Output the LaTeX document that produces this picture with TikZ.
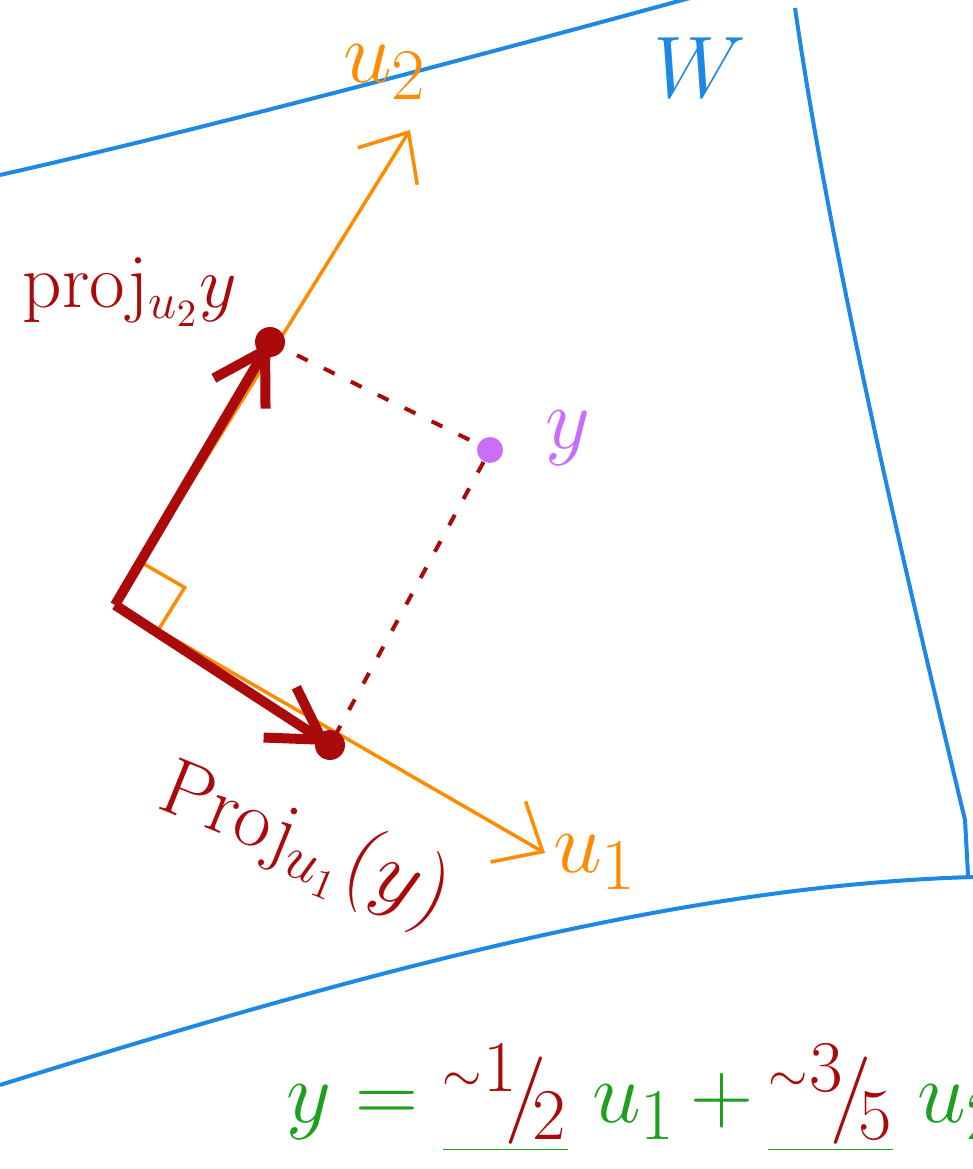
\documentclass[tikz,border=0pt]{standalone}
\usepackage{xcolor}
\usepackage{tikz}
\usetikzlibrary{arrows.meta,calc}

\definecolor{planeblue}{RGB}{30,136,229}
\definecolor{basisorange}{RGB}{255,140,0}
\definecolor{projred}{RGB}{170,10,10}
\definecolor{ypurple}{RGB}{200,110,250}
\definecolor{eqgreen}{RGB}{30,160,30}

\newcommand{\approxfrac}[2]{\textcolor{projred}{{}^{\scriptscriptstyle\sim}{}^{#1}\!/\!{}_{#2}}}

\begin{document}
\begin{tikzpicture}[
            x=0.1mm, y=-0.1mm,
            plane/.style={draw=planeblue, line width=0.4mm},
            basis/.style={draw=basisorange, line width=0.35mm, -{Straight Barb[length=4mm, width=7mm]}},
            projvec/.style={draw=projred, line width=1mm, -{Straight Barb[length=5mm, width=6mm]}},
            perpline/.style={draw=projred, line width=0.4mm, dash pattern=on 1.2mm off 1.8mm},
            dot/.style={circle, fill=#1, inner sep=0pt, minimum size=3mm},
            lbl/.style={text=#1, inner sep=1pt}
        ]
        \useasboundingbox (0,0) rectangle (973,1169);

        % the plane W
        \draw[plane] (0,175) .. controls (200,130) and (500,50) .. (690,-2);
        \draw[plane] (795,8) .. controls (830,250) and (900,550) .. (965,820) -- (968,875);
        \draw[plane] (973,877) .. controls (700,885) and (400,960) .. (0,1085);
        \node[lbl=planeblue, font=\fontsize{26}{30}\selectfont] (wlabel) at (700,68) {$W$};

        % basis vectors
        \coordinate (O) at (115,605);
        \coordinate (U1) at (545,853);
        \coordinate (U2) at (410,130);
        \draw[basis] (O) -- (U1);
        \draw[basis] (O) -- (U2);
        \node[lbl=basisorange, font=\fontsize{30}{34}\selectfont] (u2label) at (385,72) {$u_2$};
        \node[lbl=basisorange, font=\fontsize{30}{34}\selectfont] (u1label) at (595,862) {$u_1$};

        % right angle
        \coordinate (A) at ($(O)!5mm!(U1)$);
        \coordinate (B) at ($(O)!5mm!(U2)$);
        \draw[basisorange, line width=0.35mm] (A) -- ($(A)+(B)-(O)$) -- (B);

        % projections
        \coordinate (P2) at (270,342);
        \coordinate (P1) at (330,745);
        \node[dot=ypurple, minimum size=2.6mm] (Y) at (490,450) {};
        \draw[perpline] (P2) -- (Y);
        \draw[perpline] (Y) -- (P1);
        \draw[projvec] (O) -- (P2);
        \draw[projvec] (O) -- (P1);
        \node[dot=projred] (P2dot) at (P2) {};
        \node[dot=projred] (P1dot) at (P1) {};

        \node[lbl=ypurple, font=\fontsize{40}{44}\selectfont] (ylabel) at (568,438) {$y$};
        \node[lbl=projred, font=\fontsize{22}{26}\selectfont] (p2label) at (130,292) {proj$_{u_2}y$};
        \node[lbl=projred, font=\fontsize{23}{27}\selectfont, rotate=-22] (p1label) at (305,845) {Proj$_{u_1}(y)$};

        % coordinates of y
        \node[lbl=eqgreen, anchor=west, font=\fontsize{31}{36}\selectfont] (eq) at (282,1098)
            {$y\;{=}\;\underline{\approxfrac{1}{2}}\;u_1\,{+}\,\underline{\approxfrac{3}{5}}\;u_2$};
    \end{tikzpicture}
\end{document}
